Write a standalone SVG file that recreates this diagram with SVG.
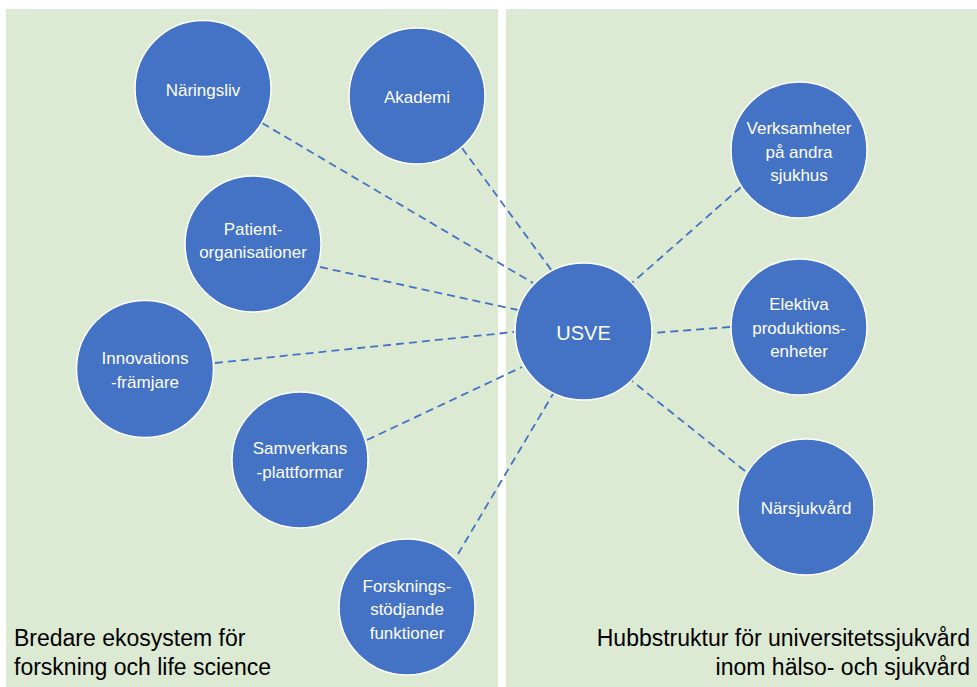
<svg xmlns="http://www.w3.org/2000/svg" width="977" height="687" viewBox="0 0 977 687">
<style>
.panel{fill:#DCEAD4}
.node circle{fill:#4472C4;stroke:#FFFFFF;stroke-width:1.5}
.node text{fill:#FFFFFF;font-family:"Liberation Sans",Arial,sans-serif;font-size:17px;text-anchor:middle}
#connectors line{stroke:#4472C4;stroke-width:1.8;stroke-dasharray:8 5;fill:none}
.caption{fill:#000000;font-family:"Liberation Sans",Arial,sans-serif;font-size:23px}
</style>
<rect width="977" height="687" fill="#FFFFFF"/>
<rect class="panel" x="6" y="9" width="492" height="678"/>
<rect class="panel" x="506" y="9" width="471" height="678"/>
<g id="connectors">
<line x1="262" y1="123" x2="533" y2="283"/>
<line x1="462" y1="148" x2="552" y2="271"/>
<line x1="320" y1="267" x2="518" y2="310"/>
<line x1="215" y1="363" x2="514" y2="332"/>
<line x1="367" y1="440" x2="522" y2="367"/>
<line x1="458" y1="554" x2="553" y2="394"/>
<line x1="741" y1="187" x2="632" y2="283"/>
<line x1="730" y1="327" x2="652" y2="333"/>
<line x1="745" y1="471" x2="632" y2="381"/>
</g>
<g id="node-naringsliv" class="node"><circle cx="203" cy="88.5" r="68"/><text x="203" y="96">Näringsliv</text></g>
<g id="node-akademi" class="node"><circle cx="417" cy="96" r="68"/><text x="417" y="103">Akademi</text></g>
<g id="node-patient" class="node"><circle cx="253" cy="244" r="68"/><text x="253" y="235">Patient-</text><text x="253" y="258">organisationer</text></g>
<g id="node-innovations" class="node"><circle cx="145" cy="369" r="68.5"/><text x="145" y="364">Innovations</text><text x="145" y="388">-främjare</text></g>
<g id="node-samverkans" class="node"><circle cx="300" cy="460" r="68"/><text x="300" y="454">Samverkans</text><text x="300" y="478">-plattformar</text></g>
<g id="node-forsknings" class="node"><circle cx="407" cy="607" r="68"/><text x="407" y="592">Forsknings-</text><text x="407" y="615">stödjande</text><text x="407" y="639">funktioner</text></g>
<g id="node-usve" class="node"><circle cx="583.5" cy="331.5" r="68.5"/><text x="583.5" y="340" style="font-size:20px">USVE</text></g>
<g id="node-verksamheter" class="node"><circle cx="799" cy="150" r="68"/><text x="799" y="134">Verksamheter</text><text x="799" y="158">på andra</text><text x="799" y="181">sjukhus</text></g>
<g id="node-elektiva" class="node"><circle cx="799" cy="327" r="68"/><text x="799" y="310">Elektiva</text><text x="799" y="334">produktions-</text><text x="799" y="357">enheter</text></g>
<g id="node-narsjukvard" class="node"><circle cx="806" cy="507" r="68"/><text x="806" y="514">Närsjukvård</text></g>
<text class="caption" x="14" y="646">Bredare ekosystem för</text>
<text class="caption" x="14" y="675">forskning och life science</text>
<text class="caption" x="970" y="646" text-anchor="end">Hubbstruktur för universitetssjukvård</text>
<text class="caption" x="970" y="675" text-anchor="end">inom hälso- och sjukvård</text>
</svg>
